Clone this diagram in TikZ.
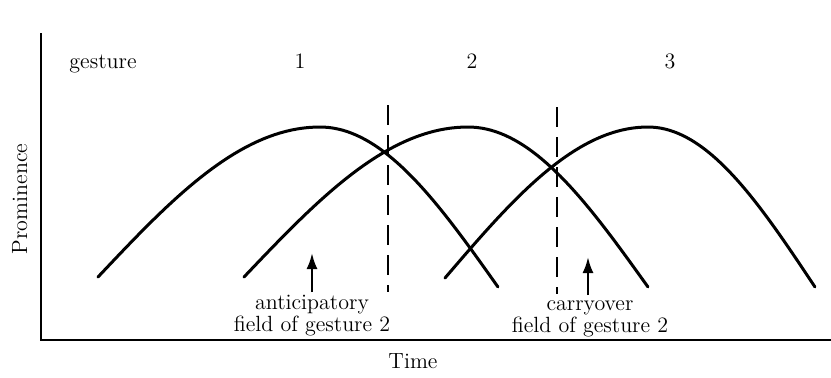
\documentclass[tikz,border=0pt]{standalone}
\usetikzlibrary{arrows.meta}
\begin{document}
\begin{tikzpicture}[x=0.5pt, y=-0.5pt]
  \tikzset{
    eje/.style={draw, line width=1pt},
    curva/.style={line width=1.5pt, line cap=round},
    corte/.style={line width=1pt, dash pattern=on 10pt off 5pt},
    flecha/.style={line width=1.2pt, -{Latex[length=8pt, width=5.5pt]}},
    etiqueta/.style={font=\fontsize{11}{9.5}\selectfont, inner sep=0pt}
  }

  % Marco de la figura
  \useasboundingbox (0,0) rectangle (831,377);

  % Ejes
  \coordinate (ytop) at (41,33);
  \coordinate (origen) at (41,340);
  \coordinate (xend) at (831,340);
  \draw[eje] (ytop) -- (origen) -- (xend);

  % Rótulos de los ejes
  \node[etiqueta, rotate=90, anchor=base] (prom) at (27,199) {Prominence};
  \node[etiqueta, anchor=base] (tiempo) at (413,368) {Time};

  % Fila de gestos
  \node[etiqueta, anchor=base] (gesto) at (103,68) {gesture};
  \node[etiqueta, anchor=base] (g1) at (300,68) {1};
  \node[etiqueta, anchor=base] (g2) at (472,68) {2};
  \node[etiqueta, anchor=base] (g3) at (670,68) {3};

  % Curvas de cada gesto (subida y bajada)
  \draw[curva] plot[domain=0:1, samples=40, variable=\t] ({98+222*\t},{277-150*sin(90*\t)})
    -- plot[domain=0:1, samples=40, variable=\t] ({320+178*\t},{127+160*(1-cos(90*\t))});
  \draw[curva] plot[domain=0:1, samples=40, variable=\t] ({244+224*\t},{277-150*sin(90*\t)})
    -- plot[domain=0:1, samples=40, variable=\t] ({468+180*\t},{127+160*(1-cos(90*\t))});
  \draw[curva] plot[domain=0:1, samples=40, variable=\t] ({445+203*\t},{278-151*sin(90*\t)})
    -- plot[domain=0:1, samples=40, variable=\t] ({648+167*\t},{127+160*(1-cos(90*\t))});

  % Líneas de corte
  \coordinate (c1top) at (388,105);
  \coordinate (c1bot) at (388,292);
  \coordinate (c2top) at (557,107);
  \coordinate (c2bot) at (557,294);
  \draw[corte] (c1top) -- (c1bot);
  \draw[corte] (c2top) -- (c2bot);

  % Campos de coarticulación (base = última línea)
  \node[etiqueta, align=center, anchor=base] (antic) at (312,331) {anticipatory\\field of gesture 2};
  \node[etiqueta, align=center, anchor=base] (arrast) at (590,332) {carryover\\field of gesture 2};

  % Flechas
  \coordinate (pA) at (312,253);
  \coordinate (pC) at (588,257);
  \draw[flecha] (pA |- 0,292) -- (pA);
  \draw[flecha] (pC |- 0,295) -- (pC);
\end{tikzpicture}
\end{document}
